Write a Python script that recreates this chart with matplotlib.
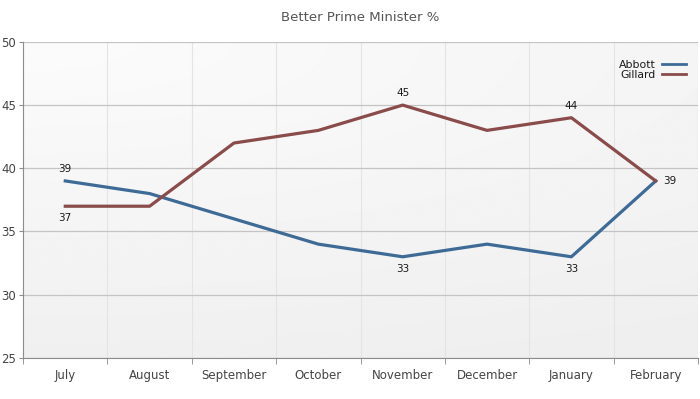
import numpy as np
import matplotlib.pyplot as plt

months = ['July', 'August', 'September', 'October', 'November',
          'December', 'January', 'February']
abbott = [39, 38, 36, 34, 33, 34, 33, 39]
gillard = [37, 37, 42, 43, 45, 43, 44, 39]

# which points get a value label, and where
abbott_labels = {0: 'above', 4: 'below', 6: 'below'}
gillard_labels = {0: 'below', 4: 'above', 6: 'above', 7: 'right'}

blue = '#3e6b96'
red = '#8a4b4b'

fig = plt.figure(figsize=(7, 3.99), dpi=100, facecolor='white')

ax = fig.add_axes([0.033, 0.103, 0.964, 0.792])
ax.patch.set_alpha(0)

ax.set_xlim(-0.5, len(months) - 0.5)
ax.set_ylim(25, 50)

# soft grey gradient inside the plot area
yy, xx = np.mgrid[0:1:200j, 0:1:350j]
grad = 0.985 - 0.05 * np.clip(np.sqrt((xx * 0.6) ** 2 + yy ** 2) / 1.1, 0, 1)
ax.imshow(grad, cmap='gray', vmin=0, vmax=1, aspect='auto', origin='upper',
          extent=[-0.5, len(months) - 0.5, 25, 50], zorder=0)

x = np.arange(len(months))
ax.plot(x, abbott, color=blue, lw=2.3, label='Abbott', zorder=3)
ax.plot(x, gillard, color=red, lw=2.3, label='Gillard', zorder=3)

for series, labels in ((abbott, abbott_labels), (gillard, gillard_labels)):
    for i, where in labels.items():
        v = series[i]
        if where == 'above':
            ax.annotate(str(v), (i, v), xytext=(0, 5), textcoords='offset points',
                        ha='center', va='bottom', fontsize=7.5, color='#1a1a1a')
        elif where == 'below':
            ax.annotate(str(v), (i, v), xytext=(0, -5), textcoords='offset points',
                        ha='center', va='top', fontsize=7.5, color='#1a1a1a')
        else:
            ax.annotate(str(v), (i, v), xytext=(5, 0), textcoords='offset points',
                        ha='left', va='center', fontsize=7.5, color='#1a1a1a')

ax.set_yticks([25, 30, 35, 40, 45, 50])
ax.set_xticks(x)
ax.set_xticklabels(months)
ax.set_xticks(np.arange(-0.5, len(months)), minor=True)

ax.grid(axis='y', color='#c4c4c4', lw=0.9, zorder=1)
ax.grid(axis='x', which='minor', color='#e4e4e4', lw=0.8, zorder=1)

for s in ('top', 'right'):
    ax.spines[s].set_visible(False)
ax.spines['left'].set_color('#8c8c8c')
ax.spines['bottom'].set_color('#8c8c8c')

ax.tick_params(axis='x', which='major', length=0, pad=8, labelsize=8.5, labelcolor='#444444')
ax.tick_params(axis='x', which='minor', length=4, color='#8c8c8c')
ax.tick_params(axis='y', length=3, color='#8c8c8c', pad=2, labelsize=8.5, labelcolor='#444444')

ax.set_title('Better Prime Minister %', fontsize=9.5, color='#555555', pad=15)

leg = ax.legend(loc='upper right', frameon=False, markerfirst=False, fontsize=7.8,
                handlelength=2.2, handletextpad=0.6, labelspacing=0.05,
                bbox_to_anchor=(0.997, 0.975))
for t in leg.get_texts():
    t.set_color('#1a1a1a')
for h in leg.get_lines():
    h.set_linewidth(2.0)

fig.savefig('out.png', dpi=100, facecolor='white')
